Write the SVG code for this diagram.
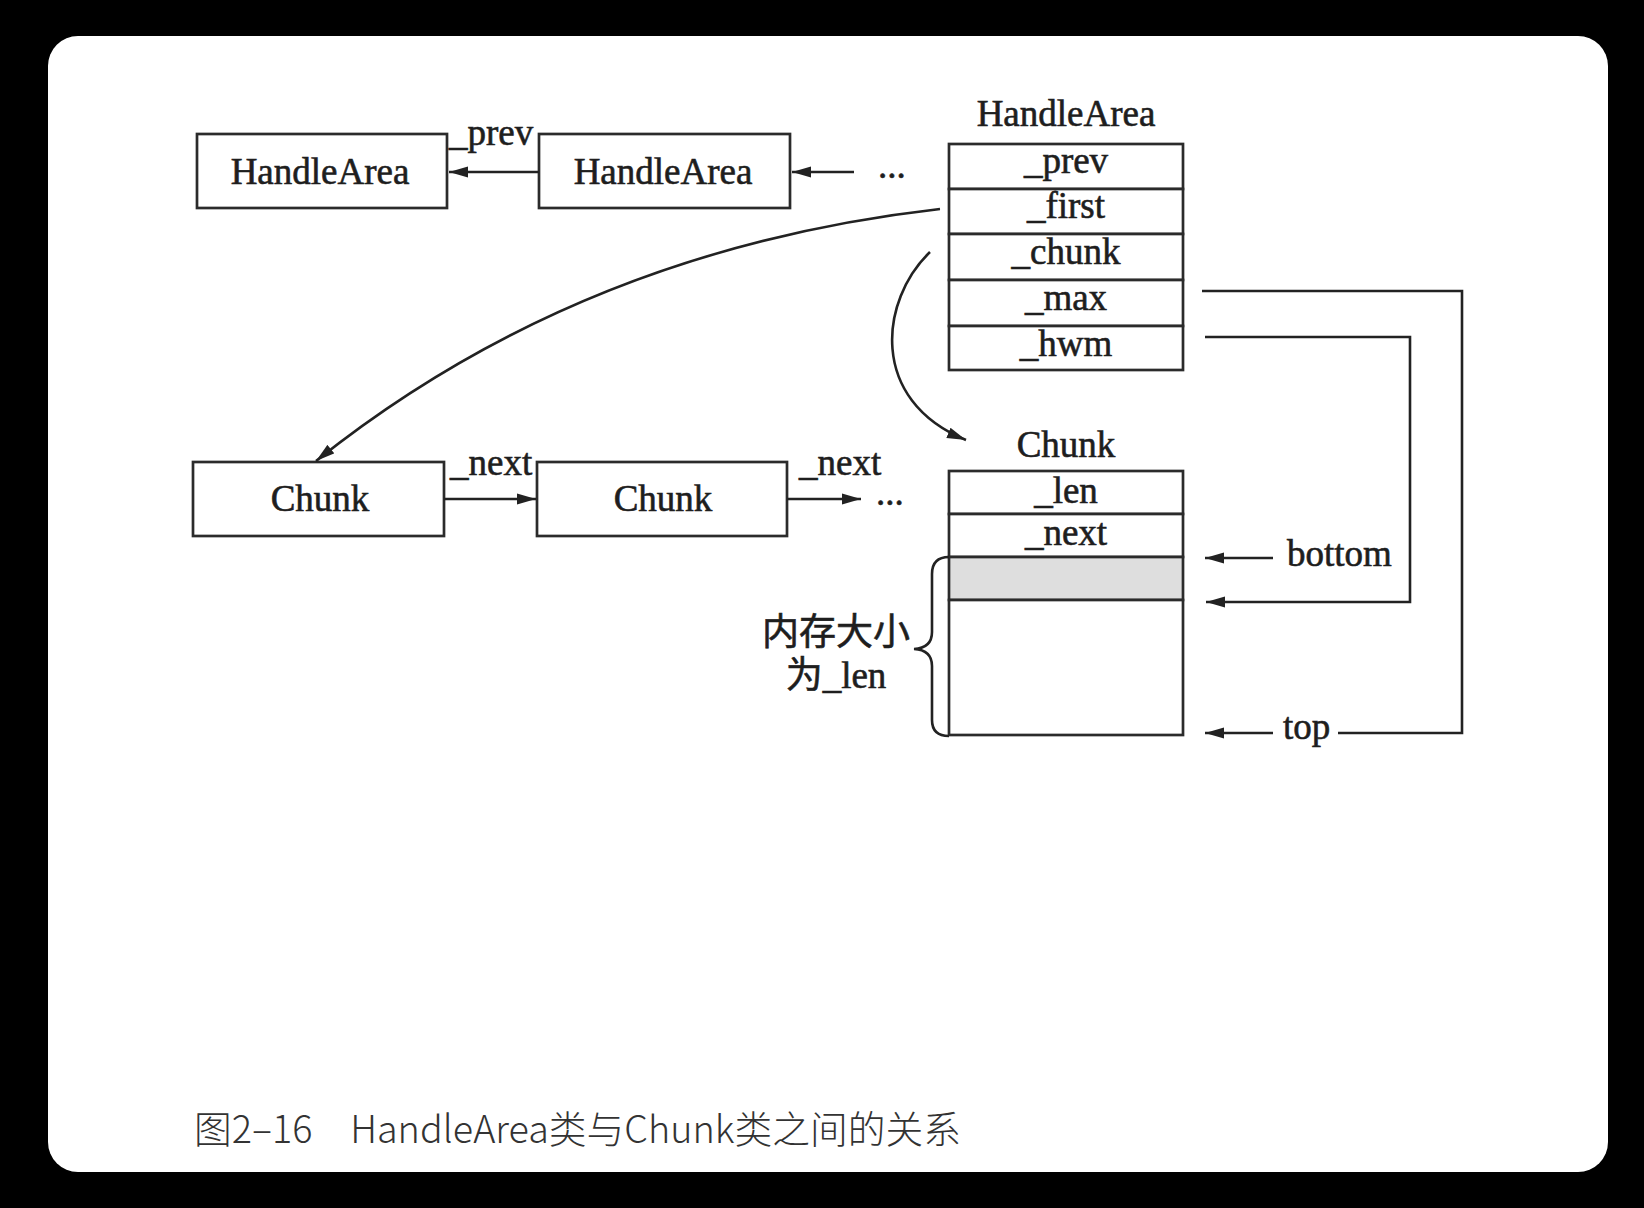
<svg xmlns="http://www.w3.org/2000/svg" width="1644" height="1208" viewBox="0 0 1644 1208">
<style>
.box{fill:#fff;stroke:#2b2b2b;stroke-width:2.7}
.line{fill:none;stroke:#222;stroke-width:2.6}
.t{font-family:"Liberation Serif","Noto Sans CJK SC",serif;font-size:37px;fill:#1e1e1e;stroke:#1e1e1e;stroke-width:0.6}
.c{text-anchor:middle}
.cap{font-family:"Noto Sans CJK SC","Noto Sans",sans-serif;font-size:38px;font-weight:300;fill:#333}
</style>
<defs>
<marker id="ah" markerUnits="userSpaceOnUse" markerWidth="20" markerHeight="12" refX="19" refY="6" orient="auto">
<path d="M0,0.5 L19,6 L0,11.5 z" fill="#222"/>
</marker>
</defs>
<rect x="0" y="0" width="1644" height="1208" fill="#000"/>
<rect x="48" y="36" width="1560" height="1136" rx="30" ry="30" fill="#fff"/>

<g id="handlearea1">
<rect class="box" x="197" y="134" width="250" height="74"/>
<text class="t c" x="320" y="184">HandleArea</text>
</g>
<g id="handlearea2">
<rect class="box" x="539" y="134" width="251" height="74"/>
<text class="t c" x="663" y="184">HandleArea</text>
</g>
<g id="dots-top">
<text class="t" x="878" y="178">...</text>
</g>

<g id="handlearea-struct">
<text class="t c" x="1066" y="126">HandleArea</text>
<rect class="box" x="949" y="144" width="234" height="45"/>
<rect class="box" x="949" y="189" width="234" height="45"/>
<rect class="box" x="949" y="234" width="234" height="46"/>
<rect class="box" x="949" y="280" width="234" height="46"/>
<rect class="box" x="949" y="326" width="234" height="44"/>
<text class="t c" x="1066" y="173">_prev</text>
<text class="t c" x="1066" y="218">_first</text>
<text class="t c" x="1066" y="264">_chunk</text>
<text class="t c" x="1066" y="310">_max</text>
<text class="t c" x="1066" y="356">_hwm</text>
</g>

<g id="chunk1">
<rect class="box" x="193" y="462" width="251" height="74"/>
<text class="t c" x="320" y="511">Chunk</text>
</g>
<g id="chunk2">
<rect class="box" x="537" y="462" width="250" height="74"/>
<text class="t c" x="663" y="511">Chunk</text>
</g>
<g id="dots-bottom">
<text class="t" x="876" y="505">...</text>
</g>

<g id="chunk-struct">
<text class="t c" x="1066" y="457">Chunk</text>
<rect class="box" x="949" y="471" width="234" height="43"/>
<rect class="box" x="949" y="514" width="234" height="43"/>
<rect x="949" y="557" width="234" height="43" fill="#dedede" stroke="#2b2b2b" stroke-width="2.7"/>
<rect class="box" x="949" y="600" width="234" height="135"/>
<text class="t c" x="1066" y="503">_len</text>
<text class="t c" x="1066" y="545">_next</text>
</g>

<g id="brace-label">
<path class="line" stroke-width="2.2" d="M949,557 Q932,557 932,574 L932,632 Q932,648 914,649 Q932,650 932,666 L932,720 Q932,736 949,736"/>
<text class="t c" x="836" y="645" stroke-width="0.3">内存大小</text>
<text class="t c" x="836" y="688" stroke-width="0.3">为_len</text>
</g>

<g id="pointer-labels">
<text class="t" x="1287" y="566">bottom</text>
<text class="t" x="1283" y="739">top</text>
<text class="t" x="449" y="145">_prev</text>
<text class="t" x="450" y="475">_next</text>
<text class="t" x="799" y="475">_next</text>
</g>

<g id="connectors">
<line class="line" x1="539" y1="172" x2="449" y2="172" marker-end="url(#ah)"/>
<line class="line" x1="854" y1="172" x2="792" y2="172" marker-end="url(#ah)"/>
<line class="line" x1="444" y1="499" x2="536" y2="499" marker-end="url(#ah)"/>
<line class="line" x1="787" y1="499" x2="861" y2="499" marker-end="url(#ah)"/>
<path class="line" d="M940,209 Q580,250 316,461" marker-end="url(#ah)"/>
<path class="line" d="M930,252 C880,300 868,400 966,440" marker-end="url(#ah)"/>
<path class="line" d="M1202,291 H1462 V733 H1338"/>
<line class="line" x1="1273" y1="733" x2="1205" y2="733" marker-end="url(#ah)"/>
<path class="line" d="M1205,337 H1410 V602 H1206" marker-end="url(#ah)"/>
<line class="line" x1="1273" y1="558" x2="1205" y2="558" marker-end="url(#ah)"/>
</g>

<g id="caption">
<text class="cap" x="194" y="1143" textLength="767" lengthAdjust="spacingAndGlyphs">图2–16　HandleArea类与Chunk类之间的关系</text>
</g>
</svg>
